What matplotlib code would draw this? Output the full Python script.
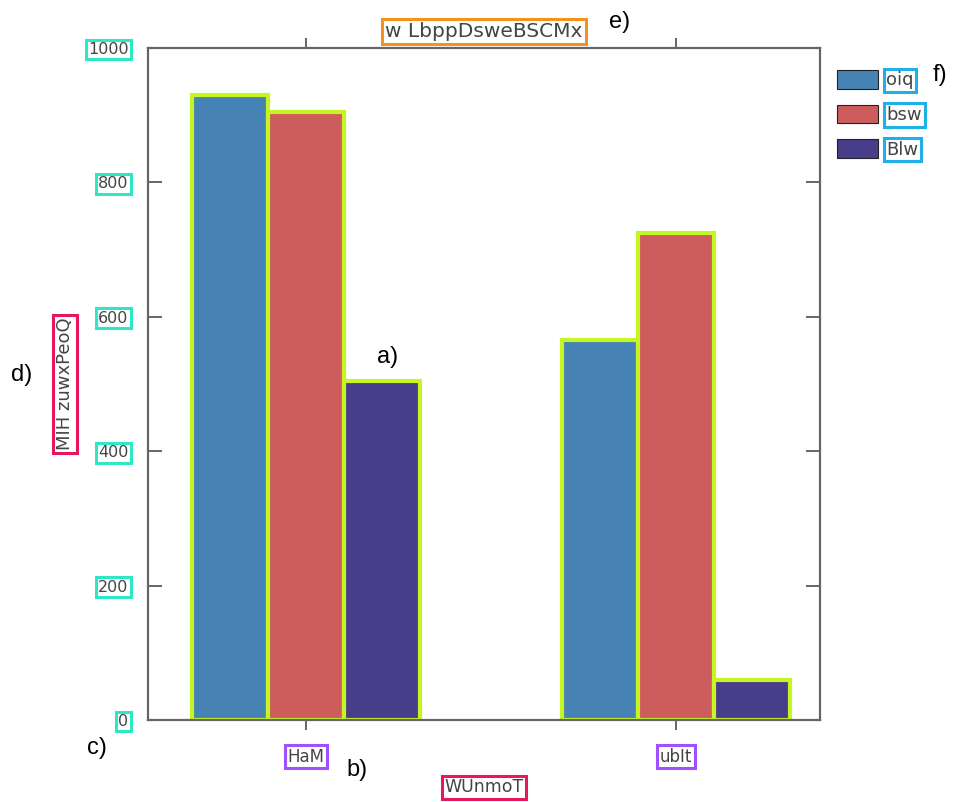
import matplotlib
matplotlib.use("Agg")
import matplotlib.pyplot as plt
import numpy as np

categories = ["HaM", "ubIt"]
series_names = ["oiq", "bsw", "Blw"]
series_values = [
    [930, 565],
    [905, 725],
    [505, 60],
]
colors = ["#4682b4", "#cd5c5c", "#483d8b"]
yticks = [0, 200, 400, 600, 800, 1000]
title = "w LbppDsweBSCMx"
xlabel = "WUnmoT"
ylabel = "MIH zuwxPeoQ"

W, H = 954, 802
fig = plt.figure(figsize=(W / 100, H / 100), dpi=100)
ax = fig.add_axes([148 / W, 1 - 720 / H, (820 - 148) / W, (720 - 48) / H])

x = np.arange(len(categories))
bw = 0.205
for i, (name, vals) in enumerate(zip(series_names, series_values)):
    ax.bar(x + (i - 1) * bw, vals, width=bw, color=colors[i],
           edgecolor="#c6f524", linewidth=3.0, label=name, zorder=2)

ax.set_xlim(-0.427, 1.389)
ax.set_ylim(0, 1000)
ax.set_yticks(yticks)
ax.set_xticks(x)

tc = "#444444"
ax.set_yticklabels([str(v) for v in yticks], fontsize=11.5, color=tc)
ax.set_xticklabels(categories, fontsize=12, color=tc)
for lab in ax.get_yticklabels():
    lab.set_bbox(dict(boxstyle="square,pad=0.15", fc="white", ec="#2ee6c8", lw=2.2))
for lab in ax.get_xticklabels():
    lab.set_bbox(dict(boxstyle="square,pad=0.15", fc="white", ec="#a050ff", lw=2.2))

ax.tick_params(axis="y", direction="in", left=True, right=True, length=10,
               width=1.4, color="#666666", pad=14)
ax.tick_params(axis="x", direction="out", top=True, bottom=True, length=7,
               width=1.4, color="#666666", pad=13)
for s in ax.spines.values():
    s.set_color("#666666")
    s.set_linewidth(1.6)

ax.set_title(title, fontsize=14.5, color=tc, pad=8,
             bbox=dict(boxstyle="square,pad=0.15", fc="white", ec="#f5921e", lw=2.2))
ax.set_xlabel(xlabel, fontsize=12.5, color=tc, labelpad=9,
              bbox=dict(boxstyle="square,pad=0.15", fc="white", ec="#e8175d", lw=2.2))
ax.set_ylabel(ylabel, fontsize=13, color=tc, labelpad=10,
              bbox=dict(boxstyle="square,pad=0.15", fc="white", ec="#e8175d", lw=2.2))

leg = ax.legend(loc="upper left", bbox_to_anchor=(1.014, 0.978), frameon=False,
                fontsize=13, handlelength=2.3, handleheight=1.2, labelspacing=0.85,
                handletextpad=0.45, borderaxespad=0)
for t in leg.get_texts():
    t.set_color(tc)
    t.set_bbox(dict(boxstyle="square,pad=0.15", fc="white", ec="#1fb0e8", lw=2.2))
for p in leg.get_patches():
    p.set_edgecolor("#222222")
    p.set_linewidth(0.8)

annots = [("a)", 388, 357), ("b)", 357, 770), ("c)", 97, 748),
          ("d)", 22, 375), ("e)", 620, 22), ("f)", 940, 75)]
for txt, px, py in annots:
    fig.text(px / W, 1 - py / H, txt, fontsize=17, family="Liberation Sans",
             ha="center", va="center", color="black")

fig.savefig("out.png", dpi=100)
